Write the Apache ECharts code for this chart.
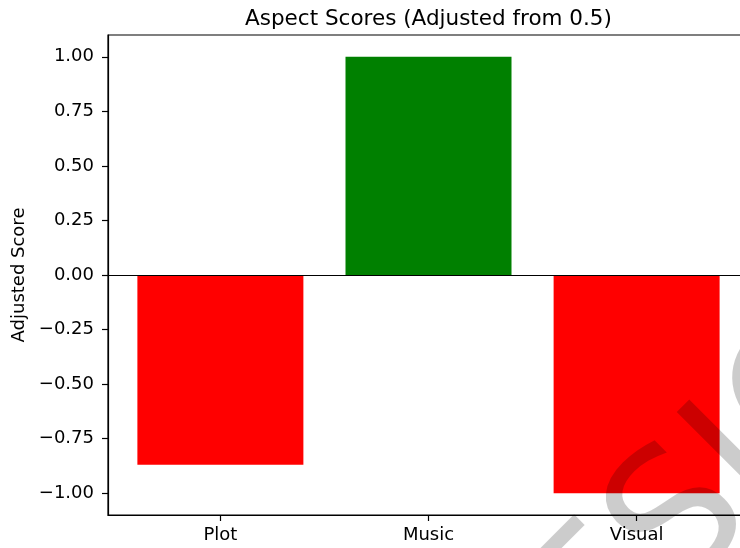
<!DOCTYPE html>
<html>
<head>
<meta charset="utf-8">
<script src="https://cdn.jsdelivr.net/npm/echarts@6/dist/echarts.min.js"></script>
<style>
  html, body { margin: 0; padding: 0; background: #fff; }
  #chart { width: 740px; height: 548px; }
</style>
</head>
<body>
<div id="chart"></div>
<script>
// data
const categories = ['Plot', 'Music', 'Visual'];
const scores = [-0.87, 1.0, -1.0];
const yTicks = [-1.0, -0.75, -0.5, -0.25, 0, 0.25, 0.5, 0.75, 1.0];
const titleText = 'Aspect Scores (Adjusted from 0.5)';
const yLabel = 'Adjusted Score';
const watermark = 'DESIGN';

const FONT = 'DejaVu Sans';
const chart = echarts.init(document.getElementById('chart'), null, { renderer: 'canvas' });

// bars: green above zero, red below
const barData = scores.map((v, i) => ({
  value: [i, v],
  itemStyle: { color: v >= 0 ? '#008000' : '#ff0000' }
}));

// matplotlib style minus sign
const fmt = v => (v < 0 ? '\u2212' : '') + Math.abs(v).toFixed(2);

const option = {
  animation: false,
  backgroundColor: '#fff',
  textStyle: { fontFamily: FONT },
  title: {
    text: titleText,
    left: 428.5,
    top: 8,
    padding: 0,
    textAlign: 'center',
    textStyle: { fontFamily: FONT, fontSize: 21.5, fontWeight: 'normal', color: '#000' }
  },
  grid: {
    left: 108, top: 35, right: -9, bottom: 33,
    outerBoundsMode: 'none',
    containLabel: false,
    show: true, borderColor: '#000', borderWidth: 1.2, backgroundColor: 'transparent'
  },
  xAxis: {
    type: 'value',
    min: -0.54, max: 2.54,
    splitLine: { show: false },
    axisLine: { show: true, onZero: false, lineStyle: { color: '#000', width: 1.2 } },
    axisTick: { show: true, customValues: [0, 1, 2], length: 6, lineStyle: { color: '#000', width: 1.2 } },
    axisLabel: {
      customValues: [0, 1, 2],
      formatter: v => categories[Math.round(v)],
      fontFamily: FONT, fontSize: 18, color: '#000', margin: 11
    }
  },
  yAxis: {
    type: 'value',
    min: -1.1, max: 1.1,
    name: yLabel,
    nameLocation: 'middle',
    nameGap: 72,
    nameTextStyle: { fontFamily: FONT, fontSize: 18, color: '#000' },
    splitLine: { show: false },
    axisLine: { show: true, onZero: false, lineStyle: { color: '#000', width: 1.2 } },
    axisTick: { show: true, customValues: yTicks, length: 6, lineStyle: { color: '#000', width: 1.2 } },
    axisLabel: {
      customValues: yTicks,
      formatter: fmt,
      fontFamily: FONT, fontSize: 18, color: '#000', margin: 14
    }
  },
  series: [{
    type: 'bar',
    data: barData,
    barWidth: 166,
    markLine: {
      silent: true,
      symbol: 'none',
      label: { show: false },
      lineStyle: { color: '#000', width: 1.2, type: 'solid' },
      data: [{ yAxis: 0 }]
    }
  }],
  // diagonal grey watermark over the bottom right corner
  graphic: [{
    type: 'text',
    x: 710, y: 498,
    rotation: Math.PI / 4,
    silent: true,
    z: 100,
    style: {
      text: watermark,
      fontFamily: FONT, fontSize: 180,
      fill: 'rgba(0,0,0,0.2)',
      align: 'center', verticalAlign: 'middle'
    }
  }]
};

chart.setOption(option);
</script>
</body>
</html>
